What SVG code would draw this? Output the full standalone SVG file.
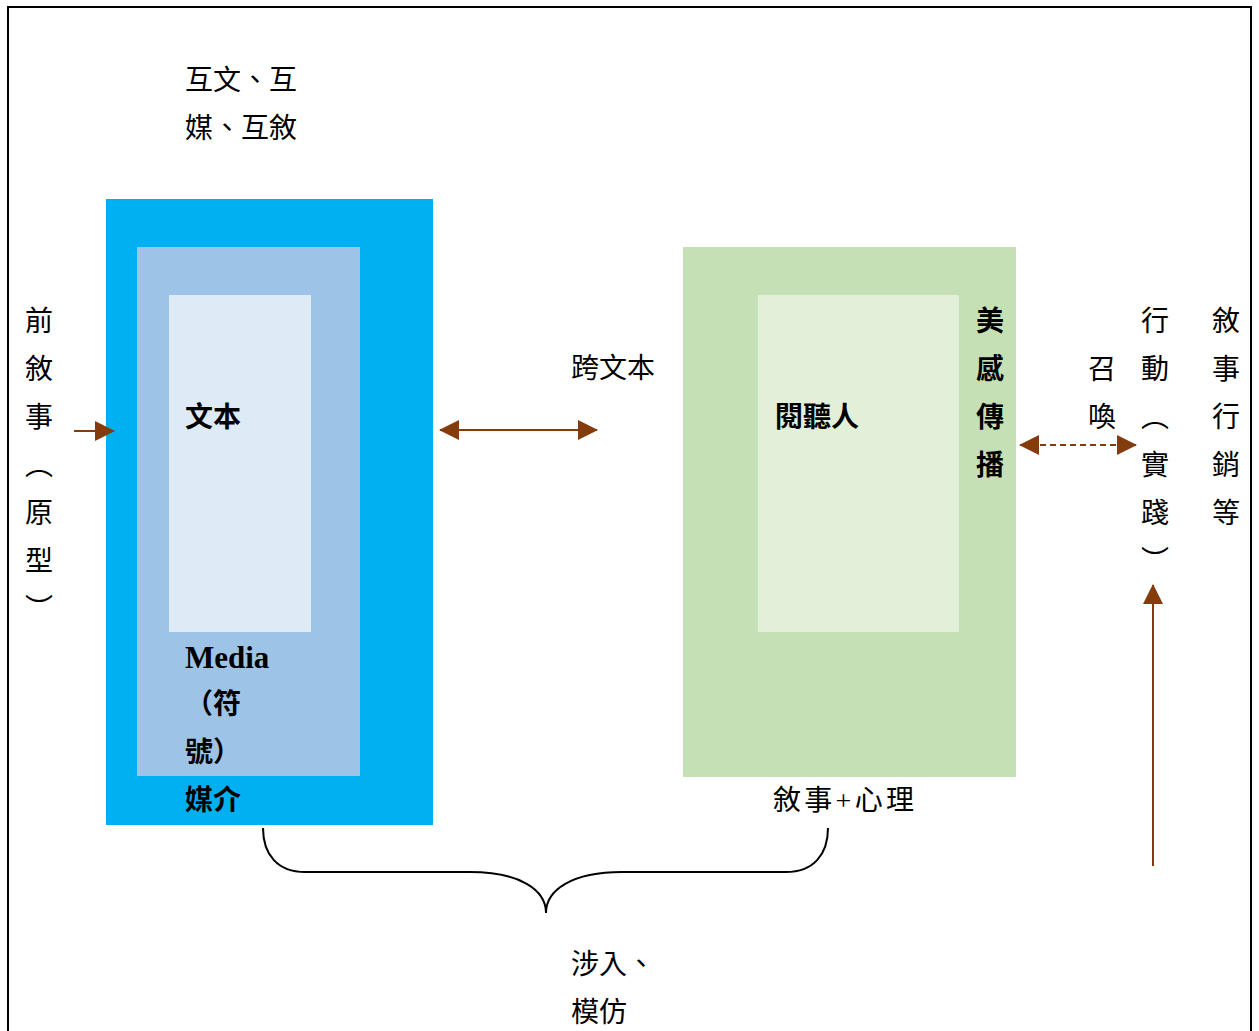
<svg xmlns="http://www.w3.org/2000/svg" width="1259" height="1031" viewBox="0 0 1259 1031">
<style>
text{font-family:"Liberation Serif","Noto Sans CJK TC",serif;font-size:28px;fill:#000}
.b{font-weight:bold}
.c{text-anchor:middle}
.v{writing-mode:vertical-rl;text-orientation:upright;letter-spacing:20px;font-family:"Noto Sans CJK TC",serif}
.arr{stroke:#843C0C;stroke-width:2;fill:none}
</style>
<defs>
<marker id="ahb" markerWidth="20" markerHeight="20" refX="19" refY="10" orient="auto-start-reverse" markerUnits="userSpaceOnUse" viewBox="0 0 20 20">
<path d="M0,0L20,10L0,20Z" fill="#843C0C"/>
</marker>
</defs>
<rect x="0" y="0" width="1259" height="1031" fill="#fff"/>
<rect x="8" y="7" width="1243" height="1040" fill="none" stroke="#000" stroke-width="2"/>

<g id="top-label"><text x="185" y="90">互文、互</text><text x="185" y="138">媒、互敘</text></g>

<g id="media-box">
<rect x="106" y="199" width="327" height="626" fill="#00B0F0"/>
<rect x="137" y="247" width="223" height="529" fill="#9DC3E6"/>
<rect x="169" y="295" width="142" height="337" fill="#DEEBF7"/>
<text x="185" y="427" class="b">文本</text>
<text x="185" y="668" class="b" style="font-size:31px">Media</text>
<text x="185" y="714" class="b">（符</text>
<text x="185" y="762" class="b">號）</text>
<text x="185" y="810" class="b">媒介</text>
</g>

<g id="audience-box">
<rect x="683" y="247" width="333" height="530" fill="#C5E0B4"/>
<rect x="758" y="295" width="201" height="337" fill="#E2F0D9"/>
<text x="775" y="427" class="b">閱聽人</text>
<text x="990" y="306" class="v b">美感傳播</text>
<text x="773" y="810" textLength="141">敘事+心理</text>
</g>

<g id="pre-narrative"><text x="39" y="306" class="v">前敘事（原型）</text></g>

<g id="transtext"><text x="571" y="378">跨文本</text></g>

<g id="summon"><text x="1102" y="354" class="v">召喚</text></g>

<g id="action"><text x="1155" y="306" class="v">行動（實踐）</text></g>

<g id="marketing"><text x="1226" y="306" class="v">敘事行銷等</text></g>

<g id="involve"><text x="571" y="974">涉入、</text><text x="571" y="1022">模仿</text></g>

<g id="connectors">
<line x1="74" y1="431" x2="114" y2="431" class="arr" marker-end="url(#ahb)"/>
<line x1="440" y1="430" x2="597" y2="430" class="arr" marker-start="url(#ahb)" marker-end="url(#ahb)"/>
<line x1="1020" y1="445" x2="1136" y2="445" class="arr" stroke-dasharray="6,4" marker-start="url(#ahb)" marker-end="url(#ahb)"/>
<line x1="1153" y1="866" x2="1153" y2="585" class="arr" marker-end="url(#ahb)"/>
<path d="M263,828 C263,855 278,872 305,872 L470,872 C520,872 546,890 546,913 C546,890 572,872 622,872 L786,872 C813,872 828,855 828,828" fill="none" stroke="#000" stroke-width="2"/>
</g>
</svg>
